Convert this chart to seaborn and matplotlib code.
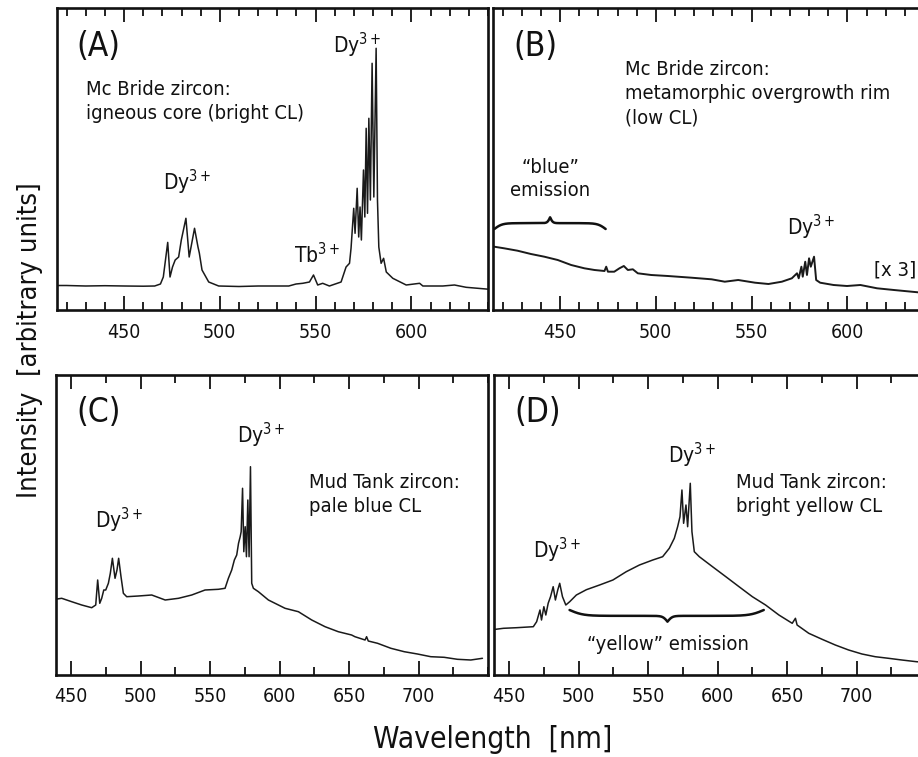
import numpy as np
import pandas as pd
import matplotlib
matplotlib.use("Agg")
import matplotlib.pyplot as plt
import seaborn as sns
from matplotlib.ticker import MultipleLocator

# ---------------- data ----------------
# (A) Mc Bride zircon, igneous core
a_nm = [414, 420, 430, 440, 450, 460, 466, 469, 470.5, 472.8,
        474, 475.3, 476.7, 478.5, 479.9, 482.3, 484, 486.8, 488.6, 489.3,
        490.7, 494.2, 499.4, 510, 520, 530, 536, 539.8, 543.3, 546.8,
        548.9, 551.1, 553.7, 557.2, 563.3, 565.9, 567.7, 568.5, 569.9, 570.6,
        571.7, 572.5, 573.2, 573.9, 575, 575.7, 576.4, 577.1, 577.8, 578.6,
        579.5, 580.4, 581.6, 582.3, 583, 584.2, 585.5, 586.9, 590.3, 597.3,
        604.3, 606, 616.4, 622.5, 628.6, 640.8]
a_int = [24.5, 24.5, 24, 24.3, 24, 23.8, 24, 26, 33, 67.6,
         33, 43, 50, 53, 70, 91.7, 53, 81.7, 63, 57,
         40, 28, 24, 23.5, 24, 24, 24, 26, 26.7, 28,
         35, 25, 26.7, 24, 28, 43, 46.7, 61.7, 101.7, 76.7,
         121.7, 73, 103, 70, 140, 93, 181.7, 96.7, 191.7, 110,
         246.7, 113, 261.7, 110, 63, 46.7, 51.7, 38, 31.7, 25,
         26.7, 24, 24, 25, 22.7, 20.7]

# (B) Mc Bride zircon, metamorphic rim (x3)
b_nm = [415.6, 420.8, 427.8, 434.8, 441.8, 448.8, 455.8, 462.7, 468, 473.2,
        474.1, 475, 478.3, 481, 483.3, 485.4, 488, 490.6, 497.6, 506.3,
        518.6, 529.1, 536, 543, 551.8, 558.8, 565.8, 571, 573.7, 574.6,
        576, 576.7, 578, 578.9, 580, 580.9, 582.6, 583.7, 585.8, 592.8,
        599.8, 606.8, 615.5, 624.3, 639]
b_int = [63.3, 61.7, 59.3, 56, 53.3, 50, 45, 41.7, 40, 39,
         43.3, 38.3, 38.3, 41.7, 44, 40, 40.7, 36.7, 35, 34,
         32.3, 30.7, 28.3, 30, 27.3, 26, 28.3, 31.7, 36.7, 31.7,
         43.3, 33.3, 48.3, 35, 51.7, 43.3, 53.3, 30, 27.3, 25,
         24, 25, 21.7, 20, 17.3]

# (C) Mud Tank zircon, pale blue CL
c_nm = [438.3, 443.1, 450.3, 457.5, 464.7, 467.6, 469, 470.5, 471.9, 473.4,
        474.8, 476.7, 478.1, 479.6, 481.5, 482.9, 484.1, 485.8, 487.5, 489.9,
        498.3, 507.9, 517.6, 527.2, 536.7, 546.3, 555.9, 560.7, 563.1, 565.5,
        567.4, 569.1, 570.4, 571.6, 572.3, 573.3, 574.2, 575.2, 576.1, 577.1,
        578, 579, 579.9, 581.1, 584.7, 591.9, 603.9, 613.5, 623.1, 632.7,
        642.2, 651.8, 654.2, 661.5, 662.6, 663.8, 670.5, 680.1, 689.7, 699.2,
        708.8, 718.4, 728, 737.6, 746]
c_int = [75.7, 76.7, 73.3, 70, 67.3, 70, 95, 71.7, 76.7, 85,
         85, 91.7, 101.7, 116.7, 96.7, 105, 116.7, 98.3, 81.7, 78.3,
         79, 80, 75, 76.7, 80, 85, 85.7, 86.7, 96.7, 105,
         115, 120, 131.7, 138.3, 143.3, 186.7, 123.3, 148.3, 118.3, 175,
         118.3, 208.3, 91.7, 86.7, 83.3, 75, 66.7, 63.3, 55, 48.3,
         43.3, 40, 38.3, 35, 38.3, 34, 31.7, 26.7, 23.3, 21,
         18.3, 17.7, 15.7, 15, 16.7]

# (D) Mud Tank zircon, bright yellow CL
d_nm = [436.2, 445.8, 455.3, 467.3, 469.7, 472.1, 473.2, 474.9, 476.3, 478,
        479.7, 481.6, 483.2, 484.9, 486.3, 488.3, 490.7, 493.5, 498.3, 505.5,
        515, 524.6, 534.2, 543.7, 553.3, 560.4, 565.2, 568.8, 571.2, 572.9,
        574.3, 575.5, 577.2, 578.4, 580.3, 581.5, 583.2, 586.8, 596.3, 605.9,
        615.4, 625, 634.5, 644.1, 653.7, 656, 657.2, 665.6, 675.2, 684.7,
        694.3, 703.9, 713.4, 723, 732.6, 743.1, 750]
d_int = [45, 46.7, 47.3, 48.3, 53.3, 65, 55, 68.3, 60, 71.7,
         78.3, 88.3, 75, 85, 91.7, 78.3, 70, 73.3, 80, 85.3,
         90, 95, 103.3, 110, 115, 118.3, 126.7, 136.7, 148.3, 158.3,
         185, 151.7, 170, 148.3, 191.7, 143.3, 123.3, 118.3, 108.3, 98.3,
         88.3, 78.3, 70, 60, 51.7, 56.7, 50, 41.7, 35.7, 30,
         25, 21, 18.3, 16.7, 15, 13.3, 12.5]

top_ticks = [450, 500, 550, 600]
bottom_ticks = [450, 500, 550, 600, 650, 700]

# ---------------- style ----------------
sns.set_theme(style="white")
plt.rcParams["font.family"] = ["DejaVu Sans"]
plt.rcParams["font.stretch"] = "condensed"
plt.rcParams["mathtext.fontset"] = "dejavusans"
plt.rcParams["text.color"] = "#111111"

W, H = 918, 757
fig = plt.figure(figsize=(W / 100, H / 100), dpi=100)
fig.patch.set_facecolor("white")


def px_axes(left, top, right, bottom):
    return fig.add_axes([left / W, 1 - bottom / H, (right - left) / W, (bottom - top) / H])


def style_axes(ax, xlim, ylim, ticks, minor):
    ax.set_xlim(*xlim)
    ax.set_ylim(*ylim)
    ax.set_xticks(ticks)
    ax.set_xticklabels([str(t) for t in ticks])
    ax.xaxis.set_minor_locator(MultipleLocator(minor))
    ax.set_yticks([])
    ax.set_xlabel("")
    ax.set_ylabel("")
    ax.tick_params(axis="x", which="both", direction="in", top=True, bottom=True,
                   colors="#111111", labelsize=14, pad=9, width=1.3)
    ax.tick_params(axis="x", which="major", length=10)
    ax.tick_params(axis="x", which="minor", length=6)
    for s in ax.spines.values():
        s.set_linewidth(1.9)
        s.set_color("#111111")
    ax.set_facecolor("white")


def brace(ax, x0, x1, xm, y0, a, lw=1.8):
    """Curly brace decoration from x0 to x1 with its tip at xm."""
    x = np.linspace(x0, x1, 600)
    span = x1 - x0
    we, wt = span * 0.035, span * 0.012
    se = lambda u: 1.0 / (1.0 + np.exp(-u / we))
    st = lambda u: 1.0 / (1.0 + np.exp(-u / wt))
    y = np.where(x <= xm, se(x - x0) + st(x - xm), se(x1 - x) + st(xm - x))
    ax.plot(x, y0 + a * (y - 0.5), color="#111111", lw=lw, solid_capstyle="round")


def spectrum(ax, nm, inten, lw=1.1):
    df = pd.DataFrame({"nm": nm, "int": inten})
    sns.lineplot(data=df, x="nm", y="int", ax=ax, color="#1a1a1a", lw=lw,
                 estimator=None, sort=False)


axA = px_axes(57, 8, 488, 310)
axB = px_axes(493, 8, 924, 310)
axC = px_axes(56, 375, 488, 675)
axD = px_axes(494, 375, 926, 675)

spectrum(axA, a_nm, a_int)
spectrum(axB, b_nm, b_int, lw=1.4)
spectrum(axC, c_nm, c_int)
spectrum(axD, d_nm, d_int)

style_axes(axA, (415, 640), (0, 302), top_ticks, 10)
style_axes(axB, (415, 640), (0, 302), top_ticks, 10)
style_axes(axC, (439, 750), (0, 300), bottom_ticks, 25)
style_axes(axD, (439, 750), (0, 300), bottom_ticks, 25)

dy = "Dy$^{3+}$"
fs_letter, fs_desc, fs_ion = 24, 14.5, 15

# panel A
axA.text(436.4, 263, "(A)", ha="center", va="center", fontsize=fs_letter)
axA.text(430.1, 230, "Mc Bride zircon:\nigneous core (bright CL)", ha="left", va="top",
         fontsize=fs_desc, linespacing=1.35)
axA.text(571.8, 257, dy, ha="center", va="baseline", fontsize=fs_ion)
axA.text(483, 120, dy, ha="center", va="baseline", fontsize=fs_ion)
axA.text(550.9, 47, "Tb$^{3+}$", ha="center", va="baseline", fontsize=fs_ion)

# panel B
axB.text(436.9, 263, "(B)", ha="center", va="center", fontsize=fs_letter)
axB.text(484, 250, "Mc Bride zircon:\nmetamorphic overgrowth rim\n(low CL)", ha="left", va="top",
         fontsize=fs_desc, linespacing=1.35)
axB.text(444.8, 152, "\u201cblue\u201d\nemission", ha="center", va="top", multialignment="center",
         fontsize=fs_desc, linespacing=1.3)
brace(axB, 415.7, 473.8, 444.8, 81, 11.7)
axB.text(581.1, 75, dy, ha="center", va="baseline", fontsize=fs_ion)
axB.text(636.2, 40, "[x 3]", ha="right", va="center", fontsize=fs_desc)

# panel C
axC.text(469.4, 262, "(C)", ha="center", va="center", fontsize=fs_letter)
axC.text(586.5, 232, dy, ha="center", va="baseline", fontsize=fs_ion)
axC.text(484.5, 147, dy, ha="center", va="baseline", fontsize=fs_ion)
axC.text(621, 202, "Mud Tank zircon:\npale blue CL", ha="left", va="top",
         fontsize=fs_desc, linespacing=1.35)

# panel D
axD.text(470.6, 262, "(D)", ha="center", va="center", fontsize=fs_letter)
axD.text(581.5, 212, dy, ha="center", va="baseline", fontsize=fs_ion)
axD.text(484.2, 117, dy, ha="center", va="baseline", fontsize=fs_ion)
axD.text(613.5, 202, "Mud Tank zircon:\nbright yellow CL", ha="left", va="top",
         fontsize=fs_desc, linespacing=1.35)
brace(axD, 493.4, 633.2, 563.9, 65, -11.7)
axD.text(563.9, 30, "\u201cyellow\u201d emission", ha="center", va="center", fontsize=fs_desc)

# shared axis labels
fig.text(30 / W, 1 - 340 / H, "Intensity  [arbitrary units]", rotation=90,
         ha="center", va="center", fontsize=19.5)
fig.text(493 / W, 1 - 740 / H, "Wavelength  [nm]", ha="center", va="center", fontsize=21.5)

fig.savefig("out.png", dpi=100, facecolor="white")
